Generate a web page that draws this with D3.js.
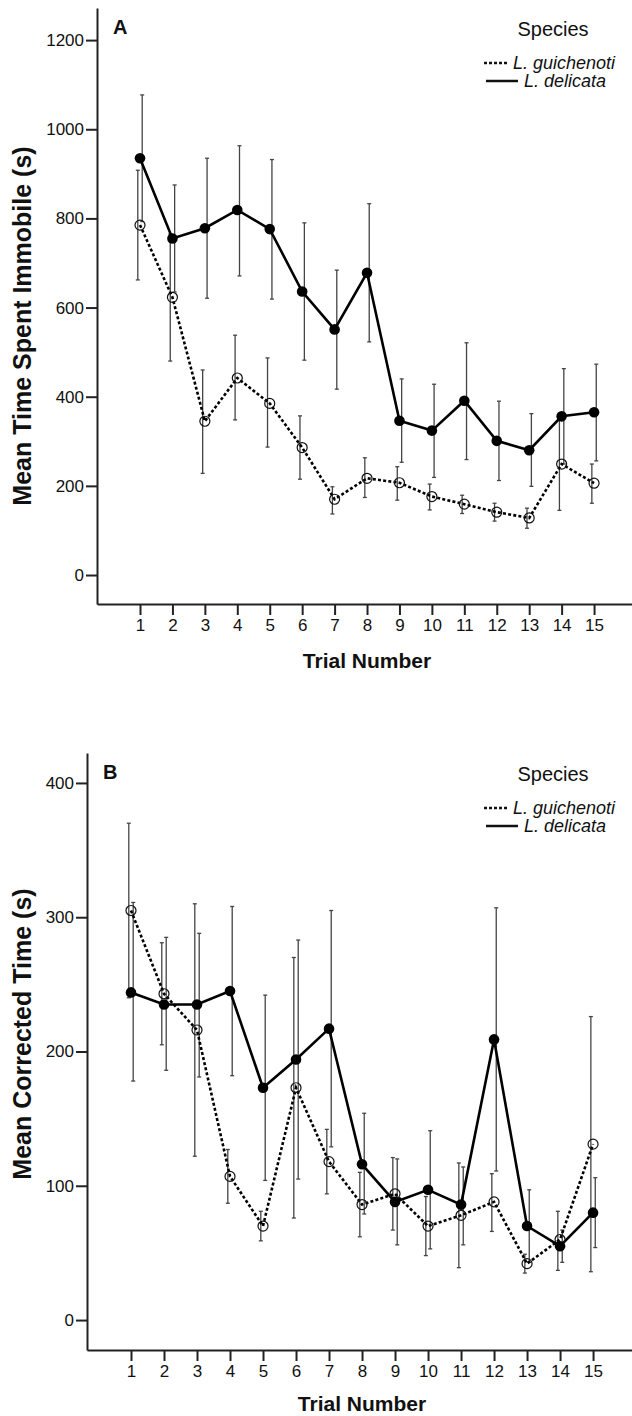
<!DOCTYPE html>
<html><head><meta charset="utf-8">
<script src="https://cdn.jsdelivr.net/npm/d3@7"></script>
<style>
html,body{margin:0;padding:0;background:#fff;}
svg text{font-family:"Liberation Sans",Arial,sans-serif;fill:#111;}
</style></head>
<body><svg id="c" width="632" height="1416"></svg>
<script>
const trials = [1,2,3,4,5,6,7,8,9,10,11,12,13,14,15];
const seriesNames = ["L. guichenoti","L. delicata"];
const yTicksA = [0,200,400,600,800,1000,1200];
const yTicksB = [0,100,200,300,400];

// Panel A: Mean time spent immobile (s)
const guiA   = [785,623,345,442,385,286,170,217,207,176,159,141,128,249,206];
const guiALo = [662,480,228,348,287,215,137,174,168,146,138,121,105,145,161];
const guiAHi = [908,765,460,538,487,357,198,263,243,204,179,161,150,353,249];
const delA   = [935,755,778,819,776,636,551,678,346,324,391,301,280,356,365];
const delALo = [793,635,621,671,619,482,417,523,253,219,259,212,199,249,256];
const delAHi = [1077,875,935,963,932,790,684,833,440,428,521,390,362,463,473];

// Panel B: Mean corrected time (s)
const guiB   = [305,243,216,107,70,173,118,86,94,70,78,88,42,60,131];
const guiBLo = [240,205,122,87,59,76,94,62,67,48,39,66,35,37,36];
const guiBHi = [370,281,310,127,81,270,142,110,121,92,117,109,49,81,226];
const delB   = [244,235,235,245,173,194,217,116,88,97,86,209,70,55,80];
const delBLo = [178,186,181,182,104,105,129,79,56,53,56,111,43,43,54];
const delBHi = [311,285,288,308,242,283,305,154,120,141,114,307,97,67,106];

const svg = d3.select("#c");

function panel(cfg){
  const g = svg.append("g");
  const x = d3.scaleLinear().domain(cfg.xDom).range([cfg.axisX, 632]);
  const y = d3.scaleLinear().domain(cfg.yDom).range([cfg.axisY, cfg.topY]);

  const ya = g.append("g").attr("transform",`translate(${cfg.axisX},0)`)
    .call(d3.axisLeft(y).tickValues(cfg.yTicks).tickFormat(d3.format("d"))
      .tickSize(11).tickSizeOuter(0).tickPadding(2));
  const xa = g.append("g").attr("transform",`translate(0,${cfg.axisY})`)
    .call(d3.axisBottom(x).tickValues(trials).tickFormat(d3.format("d"))
      .tickSize(11).tickSizeOuter(0).tickPadding(4));
  [ya,xa].forEach(a=>{
    a.selectAll("path.domain").attr("stroke","#222").attr("stroke-width",2);
    a.selectAll(".tick line").attr("stroke","#222").attr("stroke-width",2);
    a.selectAll(".tick text").attr("font-size",17).attr("fill","#222")
      .attr("font-family","'Liberation Sans',Arial,sans-serif");
  });

  g.append("text").attr("x",(x(1)+x(15))/2).attr("y",cfg.axisY+cfg.tnOff)
    .attr("text-anchor","middle").attr("font-weight","bold").attr("font-size",21)
    .text("Trial Number");
  g.append("text").attr("transform",`translate(31,${cfg.titleY}) rotate(-90)`)
    .attr("text-anchor","middle").attr("font-weight","bold").attr("font-size",25)
    .text(cfg.yTitle);
  g.append("text").attr("x",cfg.axisX+16).attr("y",cfg.topY+26)
    .attr("font-weight","bold").attr("font-size",20).text(cfg.letter);

  const lg = g.append("g");
  lg.append("text").attr("x",553).attr("y",cfg.topY+28).attr("text-anchor","middle")
    .attr("font-size",20).text("Species");
  const ly1 = cfg.topY+55, ly2 = cfg.topY+73;
  lg.append("line").attr("x1",484).attr("x2",507).attr("y1",ly1).attr("y2",ly1)
    .attr("stroke","#111").attr("stroke-width",2.5).attr("stroke-dasharray","3,2");
  lg.append("text").attr("x",513).attr("y",ly1+6).attr("font-size",18).attr("font-style","italic").text(seriesNames[0]);
  lg.append("line").attr("x1",486).attr("x2",518).attr("y1",ly2).attr("y2",ly2)
    .attr("stroke","#111").attr("stroke-width",2.5);
  lg.append("text").attr("x",524).attr("y",ly2+6).attr("font-size",18).attr("font-style","italic").text(seriesNames[1]);

  const series = [
    {m:cfg.gui, lo:cfg.guiLo, hi:cfg.guiHi, off:-2.2, dash:"3,2.2", filled:false},
    {m:cfg.del, lo:cfg.delLo, hi:cfg.delHi, off:2.2, dash:null, filled:true}
  ];
  series.forEach(s=>{
    const eb = g.append("g").attr("stroke","#444").attr("stroke-width",1.3);
    trials.forEach((t,i)=>{
      const cx = x(t)+s.off;
      eb.append("line").attr("x1",cx).attr("x2",cx).attr("y1",y(s.lo[i])).attr("y2",y(s.hi[i]));
      eb.append("line").attr("x1",cx-2).attr("x2",cx+2).attr("y1",y(s.lo[i])).attr("y2",y(s.lo[i]));
      eb.append("line").attr("x1",cx-2).attr("x2",cx+2).attr("y1",y(s.hi[i])).attr("y2",y(s.hi[i]));
    });
  });
  series.forEach(s=>{
    const line = d3.line().x((d,i)=>x(trials[i])).y(d=>y(d));
    const p = g.append("path").datum(s.m).attr("d",line).attr("fill","none")
      .attr("stroke","#000").attr("stroke-width",2.6);
    if(s.dash) p.attr("stroke-dasharray",s.dash);
  });
  series.forEach(s=>{
    g.append("g").selectAll("circle").data(s.m).join("circle")
      .attr("cx",(d,i)=>x(trials[i])).attr("cy",d=>y(d)).attr("r",s.filled?5.3:5)
      .attr("fill",s.filled?"#000":"none").attr("stroke","#111").attr("stroke-width",s.filled?0:1.2);
  });
}

panel({letter:"A", axisX:97, topY:8, axisY:604, xDom:[-0.326,16.17], yDom:[-65,1272],
  yTicks:yTicksA, yTitle:"Mean Time Spent Immobile (s)", titleY:326, tnOff:64,
  gui:guiA, guiLo:guiALo, guiHi:guiAHi, del:delA, delLo:delALo, delHi:delAHi});
panel({letter:"B", axisX:87, topY:753, axisY:1350, xDom:[-0.333,16.18], yDom:[-22.3,422.3],
  yTicks:yTicksB, yTitle:"Mean Corrected Time (s)", titleY:1034, tnOff:61,
  gui:guiB, guiLo:guiBLo, guiHi:guiBHi, del:delB, delLo:delBLo, delHi:delBHi});
</script></body></html>
